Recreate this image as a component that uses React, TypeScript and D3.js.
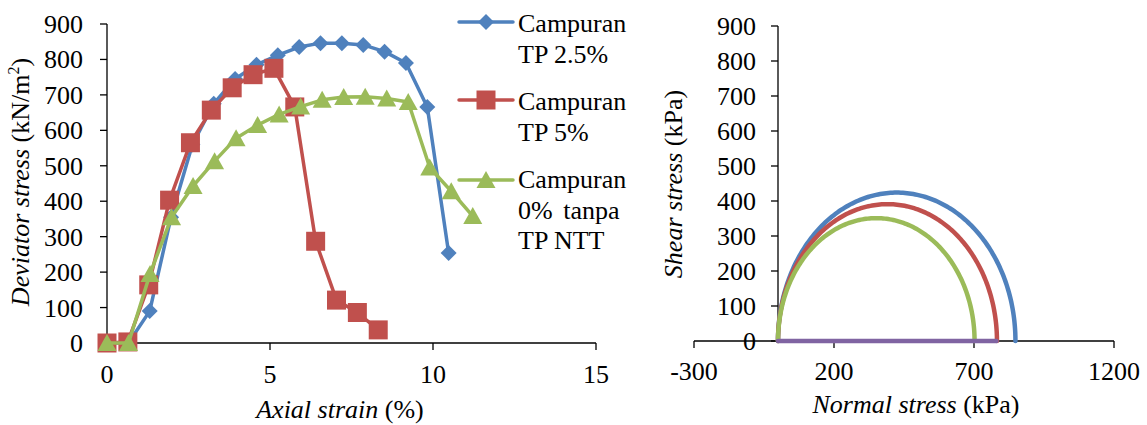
import React from "react";
import * as d3 from "d3";

// ---- Data (left chart: deviator stress vs axial strain) ----
const strainTP25 = [0, 0.655, 1.31, 1.965, 2.62, 3.275, 3.93, 4.585, 5.24, 5.895, 6.55, 7.205, 7.86, 8.515, 9.17, 9.825, 10.48];
const stressTP25 = [0, 0, 90, 355, 560, 675, 745, 785, 812, 835, 846, 846, 841, 822, 790, 666, 254];

const strainTP5 = [0, 0.64, 1.28, 1.92, 2.56, 3.2, 3.84, 4.48, 5.12, 5.76, 6.4, 7.04, 7.68, 8.32];
const stressTP5 = [0, 3, 164, 403, 565, 657, 720, 757, 775, 666, 287, 121, 86, 37];

const strainTP0 = [0, 0.66, 1.32, 1.98, 2.64, 3.3, 3.96, 4.62, 5.28, 5.94, 6.6, 7.26, 7.92, 8.58, 9.24, 9.9, 10.56, 11.22];
const stressTP0 = [0, 0, 195, 355, 443, 513, 578, 615, 645, 667, 686, 694, 695, 690, 680, 495, 428, 358];

const legendLabels = [
  ["Campuran", "TP 2.5%"],
  ["Campuran", "TP 5%"],
  ["Campuran", "0% tanpa", "TP NTT"],
];

const leftXTicks = [0, 5, 10, 15];
const leftYTicks = [0, 100, 200, 300, 400, 500, 600, 700, 800, 900];

// ---- Data (right chart: Mohr circles) ----
const mohrDiameters = [848, 782, 702];
const envelopeSigma = [0, 780];
const envelopeTau = [0, 0];
const rightXTicks = [-300, 200, 700, 1200];
const rightYTicks = [0, 100, 200, 300, 400, 500, 600, 700, 800, 900];

const colors = ["#4F81BD", "#C0504D", "#9BBB59"];
const purple = "#8064A2";
const FONT = "Liberation Serif";

type MarkerKind = "diamond" | "square" | "triangle";
const markerKinds: MarkerKind[] = ["diamond", "square", "triangle"];

function markerPath(kind: MarkerKind, cx: number, cy: number): string {
  if (kind === "diamond") {
    const r = 8;
    return `M${cx},${cy - r}L${cx + r},${cy}L${cx},${cy + r}L${cx - r},${cy}Z`;
  }
  if (kind === "square") {
    const h = 9.5;
    return `M${cx - h},${cy - h}H${cx + h}V${cy + h}H${cx - h}Z`;
  }
  const w = 9.5;
  return `M${cx},${cy - 9}L${cx + w},${cy + 8}L${cx - w},${cy + 8}Z`;
}

export default function App() {
  const lx = d3.scaleLinear().domain([0, 15]).range([107, 596]);
  const ly = d3.scaleLinear().domain([0, 900]).range([343, 24]);
  const rx = d3.scaleLinear().domain([-300, 1200]).range([694, 1114]);
  const ry = d3.scaleLinear().domain([0, 900]).range([341, 26]);

  const series = [
    { xs: strainTP25, ys: stressTP25 },
    { xs: strainTP5, ys: stressTP5 },
    { xs: strainTP0, ys: stressTP0 },
  ];

  const line = d3
    .line<[number, number]>()
    .x((d) => lx(d[0]))
    .y((d) => ly(d[1]));

  const mohrLine = d3
    .line<[number, number]>()
    .x((d) => rx(d[0]))
    .y((d) => ry(d[1]));

  const semicircle = (dia: number): [number, number][] => {
    const r = dia / 2;
    const pts: [number, number][] = [];
    const n = 180;
    for (let i = 0; i <= n; i++) {
      const t = (Math.PI * i) / n;
      pts.push([r - r * Math.cos(t), r * Math.sin(t)]);
    }
    return pts;
  };

  const legendY = [22, 100, 180];
  const legendTextY = [32, 110, 188];

  return (
    <svg
      width={1147}
      height={425}
      style={{ position: "absolute", left: 0, top: 0, background: "#fff", fontFamily: FONT, fontSize: 26 }}
    >
      <rect x={0} y={0} width={1147} height={425} fill="#fff" />

      {/* ---------- LEFT CHART ---------- */}
      <line x1={lx(0)} x2={lx(0)} y1={ly(900)} y2={ly(0)} stroke="#000" strokeWidth={1.3} />
      <line x1={lx(0)} x2={lx(15)} y1={ly(0)} y2={ly(0)} stroke="#000" strokeWidth={1.3} />
      {leftYTicks.map((t) => (
        <g key={"ly" + t}>
          <line x1={lx(0) - 7} x2={lx(0)} y1={ly(t)} y2={ly(t)} stroke="#000" strokeWidth={1.3} />
          <text x={83} y={ly(t) + 9} textAnchor="end">
            {t}
          </text>
        </g>
      ))}
      {leftXTicks.map((t) => (
        <g key={"lx" + t}>
          <line x1={lx(t)} x2={lx(t)} y1={ly(0)} y2={ly(0) + 7} stroke="#000" strokeWidth={1.3} />
          <text x={lx(t)} y={383} textAnchor="middle">
            {t}
          </text>
        </g>
      ))}
      <text x={340} y={418} textAnchor="middle">
        <tspan fontStyle="italic">Axial strain</tspan> (%)
      </text>
      <text transform="translate(29,182) rotate(-90)" textAnchor="middle">
        <tspan fontStyle="italic">Deviator stress</tspan>
        <tspan> (kN/m</tspan>
        <tspan fontSize={16} dy={-10}>2</tspan>
        <tspan dy={10}>)</tspan>
      </text>

      {series.map((s, i) => {
        const pts: [number, number][] = s.xs.map((x, j) => [x, s.ys[j]]);
        return (
          <g key={"s" + i}>
            <path d={line(pts) || ""} fill="none" stroke={colors[i]} strokeWidth={3.5} strokeLinejoin="round" />
            {pts.map((p, j) => (
              <path key={j} d={markerPath(markerKinds[i], lx(p[0]), ly(p[1]))} fill={colors[i]} />
            ))}
          </g>
        );
      })}

      {legendLabels.map((lines, i) => (
        <g key={"lg" + i}>
          <line x1={459} x2={513} y1={legendY[i]} y2={legendY[i]} stroke={colors[i]} strokeWidth={3.5} strokeLinecap="round" />
          <path d={markerPath(markerKinds[i], 486, legendY[i])} fill={colors[i]} />
          {lines.map((t, k) => (
            <text key={k} x={518} y={legendTextY[i] + k * 30.5} style={{ wordSpacing: t === "0% tanpa" ? "4px" : undefined }}>
              {t}
            </text>
          ))}
        </g>
      ))}

      {/* ---------- RIGHT CHART ---------- */}
      <line x1={rx(0)} x2={rx(0)} y1={ry(900)} y2={ry(0)} stroke="#000" strokeWidth={1.3} />
      <line x1={rx(-300)} x2={rx(1200)} y1={ry(0)} y2={ry(0)} stroke="#000" strokeWidth={1.3} />
      {rightYTicks.map((t) => (
        <g key={"ry" + t}>
          <line x1={rx(0) - 7} x2={rx(0)} y1={ry(t)} y2={ry(t)} stroke="#000" strokeWidth={1.3} />
          <text x={756} y={ry(t) + 9} textAnchor="end">
            {t}
          </text>
        </g>
      ))}
      {rightXTicks.map((t) => (
        <g key={"rx" + t}>
          <line x1={rx(t)} x2={rx(t)} y1={ry(0)} y2={ry(0) + 7} stroke="#000" strokeWidth={1.3} />
          <text x={rx(t)} y={380} textAnchor="middle">
            {t}
          </text>
        </g>
      ))}
      <text x={916} y={413} textAnchor="middle">
        <tspan fontStyle="italic">Normal stress</tspan> (kPa)
      </text>
      <text transform="translate(682,184) rotate(-90)" textAnchor="middle">
        <tspan fontStyle="italic">Shear stress</tspan> (kPa)
      </text>

      {mohrDiameters.map((dia, i) => (
        <path
          key={"m" + i}
          d={mohrLine(semicircle(dia)) || ""}
          fill="none"
          stroke={colors[i]}
          strokeWidth={4.5}
          strokeLinecap="round"
        />
      ))}
      <path
        d={mohrLine(envelopeSigma.map((s, j) => [s, envelopeTau[j]] as [number, number])) || ""}
        fill="none"
        stroke={purple}
        strokeWidth={4.5}
        strokeLinecap="round"
      />
    </svg>
  );
}
